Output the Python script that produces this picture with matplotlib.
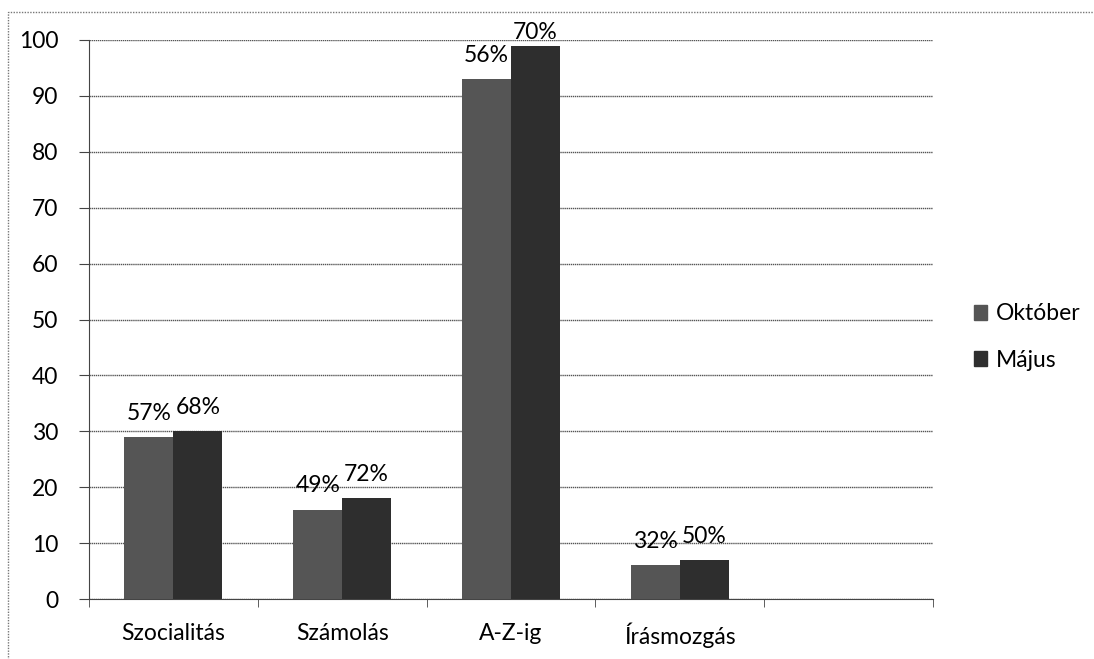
import matplotlib
matplotlib.use("Agg")
import matplotlib.pyplot as plt
import matplotlib.patches as mpatches
import numpy as np

categories = ["Szocialitás", "Számolás", "A-Z-ig", "Írásmozgás", ""]
series_names = ["Október", "Május"]
oktober = [29, 16, 93, 6]
majus = [30, 18, 99, 7]
oktober_labels = ["57%", "49%", "56%", "32%"]
majus_labels = ["68%", "72%", "70%", "50%"]
yticks = [0, 10, 20, 30, 40, 50, 60, 70, 80, 90, 100]

plt.rcParams['font.family'] = ['Lato', 'DejaVu Sans']

fig = plt.figure(figsize=(10.94, 6.59), dpi=100)
ax = fig.add_axes([89/1094, 1-599/659, (933-89)/1094, (599-40)/659])

colors = ["#555555", "#2e2e2e"]
width = 0.29
fs = 16.5
n = len(categories)
x = np.arange(len(oktober))
for i, (vals, labs, name) in enumerate(zip([oktober, majus], [oktober_labels, majus_labels], series_names)):
    xs = x + (i - 0.5) * width
    ax.bar(xs, vals, width=width, color=colors[i], label=name, zorder=3)
    for xi, v, lab in zip(xs, vals, labs):
        ax.text(xi, min(v + 3.1, 100.1), lab, ha='center', va='baseline',
                fontsize=fs, color='black', zorder=4)

ax.set_xlim(-0.5, n - 0.5)
ax.set_ylim(0, 100)
ax.set_yticks(yticks)
ax.set_xticks(np.arange(n))
ax.set_xticklabels(categories)
ax.set_xticks(np.arange(n + 1) - 0.5, minor=True)
ax.tick_params(axis='x', which='major', length=0, pad=17, labelsize=fs, colors='black')
ax.tick_params(axis='x', which='minor', length=6, direction='out', color='#444444')
ax.tick_params(axis='y', length=7, direction='out', pad=15, labelsize=fs, color='#444444', labelcolor='black')

ax.grid(axis='y', color='#555555', linewidth=1.0, linestyle=(0, (1, 0.5)), zorder=0)
for s in ['top', 'right']:
    ax.spines[s].set_visible(False)
ax.spines['left'].set_color('#444444')
ax.spines['bottom'].set_color('#444444')

handles = [mpatches.Patch(color=c, label=nm) for c, nm in zip(colors, series_names)]
fig.legend(handles=handles, loc='center left', bbox_to_anchor=(953/1094, 1-337/659),
           frameon=False, fontsize=fs, handlelength=0.6, handleheight=0.6,
           handletextpad=0.35, labelspacing=1.1)

border = mpatches.Rectangle((8/1094, -0.1), 1.2, 1-12/659 + 0.1, transform=fig.transFigure,
                            fill=False, edgecolor='#777777', linewidth=1.0,
                            linestyle=(0, (1, 1)), clip_on=False)
fig.patches.append(border)

fig.savefig("out.png", dpi=100)
